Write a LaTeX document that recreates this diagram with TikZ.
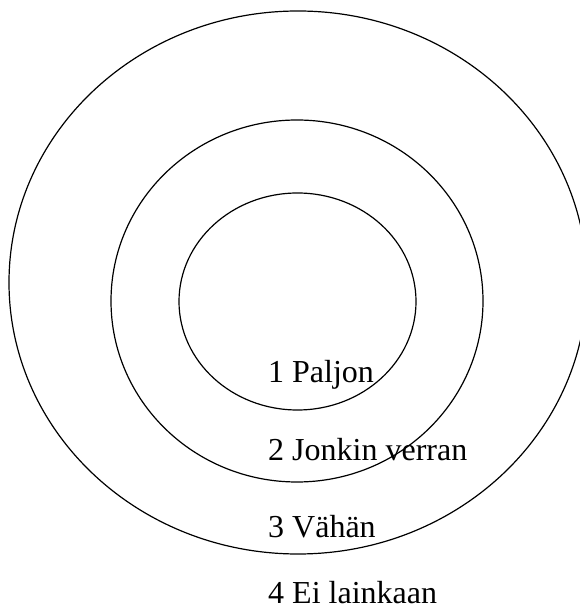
\documentclass[tikz,border=0pt]{standalone}
\usepackage{fontspec}
\setmainfont{Liberation Serif}
\begin{document}
\begin{tikzpicture}[x=1pt,y=1pt,
  ring/.style={draw=black,line width=1.2pt},
  lbl/.style={anchor=base west,inner sep=0pt,font=\fontsize{32}{32}\selectfont}]
\useasboundingbox (0,0) rectangle (580,611);
\clip (0,0) rectangle (580,611);
\fill[white] (0,0) rectangle (580,611);
% y measured from top: Y = 611 - y
\draw[ring] (298,328.5) ellipse [x radius=289, y radius=271.5];
\draw[ring] (297,310) ellipse [x radius=186, y radius=181];
\draw[ring] (297.5,309.5) ellipse [x radius=118.5, y radius=108.5];
\node[lbl] (l1) at (268,228) {1 Paljon};
\node[lbl] (l2) at (268,150) {2 Jonkin verran};
\node[lbl] (l3) at (268,73) {3 Vähän};
\node[lbl] (l4) at (268,7) {4 Ei lainkaan};
\end{tikzpicture}
\end{document}
